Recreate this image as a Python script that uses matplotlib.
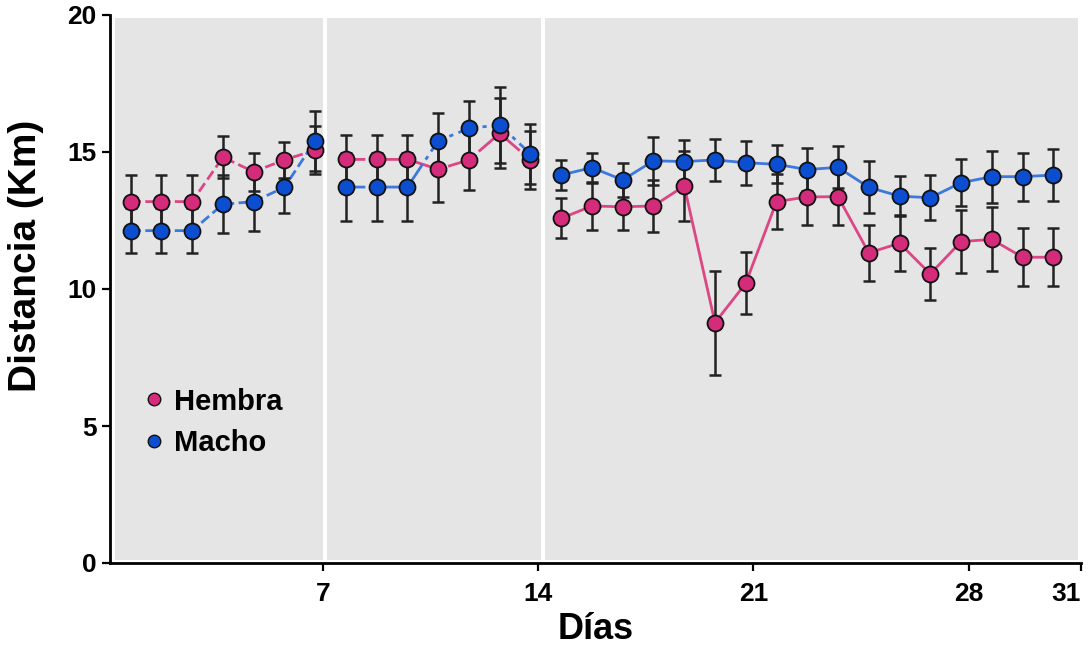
import matplotlib
matplotlib.use("Agg")
import matplotlib.pyplot as plt
from matplotlib.lines import Line2D
from matplotlib.patches import Rectangle
import numpy as np

# datos (media +- error por dia)
dias = np.arange(1, 32)
hembra = [13.19, 13.19, 13.19, 14.81, 14.28, 14.71, 15.07,
          14.73, 14.73, 14.73, 14.37, 14.71, 15.68, 14.71,
          12.58, 13.03, 13.00, 13.03, 13.76, 8.77, 10.21, 13.19, 13.36,
          13.37, 11.32, 11.67, 10.55, 11.73, 11.81, 11.16, 11.16]
hembra_err = [0.97, 0.97, 0.97, 0.77, 0.69, 0.67, 0.88,
              0.88, 0.88, 0.88, 1.20, 1.09, 1.28, 1.06,
              0.73, 0.86, 0.85, 0.94, 1.27, 1.90, 1.13, 1.00, 1.02,
              1.03, 1.02, 1.02, 0.95, 1.15, 1.17, 1.05, 1.05]
macho = [12.13, 12.13, 12.13, 13.09, 13.19, 13.71, 15.41,
         13.72, 13.72, 13.72, 15.41, 15.86, 15.99, 14.93,
         14.16, 14.43, 13.98, 14.68, 14.65, 14.71, 14.61, 14.55, 14.36,
         14.44, 13.71, 13.39, 13.33, 13.88, 14.10, 14.10, 14.16]
macho_err = [0.82, 0.82, 0.82, 1.06, 1.06, 0.95, 1.09,
             1.24, 1.24, 1.24, 1.02, 1.01, 1.39, 1.10,
             0.55, 0.55, 0.62, 0.88, 0.77, 0.77, 0.80, 0.69, 0.77,
             0.77, 0.95, 0.73, 0.82, 0.86, 0.95, 0.88, 0.94]

# tramos (semana 1, semana 2, resto) y estilo de linea de cada uno
tramos = [(1, 7), (8, 14), (15, 31)]
estilos = ["--", (0, (7, 2, 1.5, 2)), "-"]
paneles = [(0.49, 7.26), (7.39, 14.35), (14.48, 31.81)]

xticks = [7, 14, 21, 28]
yticks = [0, 5, 10, 15, 20]

rosa, rosa_linea = "#d42b7b", "#dd4585"
azul, azul_linea = "#0b4ecf", "#3d78de"

plt.rcParams["font.family"] = ["Liberation Sans", "DejaVu Sans"]
plt.rcParams["font.weight"] = "bold"

fig = plt.figure(figsize=(10.91, 6.52), dpi=100)
ax = fig.add_axes([110 / 1091, 1 - 563 / 652, 971 / 1091, 548 / 652])

xmin, xmax = 0.33, 31.9
for a, b in paneles:
    ax.add_patch(Rectangle((a, 0.1), b - a, 19.8, facecolor="#e5e5e5",
                           edgecolor="none", zorder=0))

for (ini, fin), ls in zip(tramos, estilos):
    sel = (dias >= ini) & (dias <= fin)
    x = dias[sel]
    for y, err, c, cl in [(np.array(hembra)[sel], np.array(hembra_err)[sel], rosa, rosa_linea),
                          (np.array(macho)[sel], np.array(macho_err)[sel], azul, azul_linea)]:
        ax.plot(x, y, color=cl, ls=ls, lw=2, zorder=2)
        ax.errorbar(x, y, yerr=err, fmt="none", ecolor="#222222",
                    elinewidth=1.8, capsize=4, capthick=1.8, zorder=3)
        ax.plot(x, y, "o", ms=11.5, mfc=c, mec="#111111", mew=1.3, ls="none",
                zorder=4)

ax.set_xlim(xmin, xmax)
ax.set_ylim(0, 20)
ax.set_xticks([t + 0.25 for t in xticks] + [xmax])
ax.set_xticklabels([str(t) for t in xticks] + ["31"])
ax.get_xticklabels()[-1].set_horizontalalignment("right")
ax.set_yticks(yticks)
ax.tick_params(labelsize=19, width=1.6, length=6)
ax.tick_params(axis="x", pad=8)
for s in ["top", "right"]:
    ax.spines[s].set_visible(False)
for s in ["left", "bottom"]:
    ax.spines[s].set_linewidth(2)
ax.set_xlabel("Días", fontsize=26, fontweight="bold", labelpad=4)
ax.set_ylabel("Distancia (Km)", fontsize=28, fontweight="bold")
ax.yaxis.set_label_coords(-0.068, 0.56)

handles = [Line2D([], [], marker="o", ls="none", ms=9, mfc=rosa, mec="#111111"),
           Line2D([], [], marker="o", ls="none", ms=9, mfc=azul, mec="#111111")]
ax.legend(handles, ["Hembra", "Macho"], loc="upper left",
          bbox_to_anchor=(0.033, 0.32), frameon=False, fontsize=21,
          handlelength=0.8, handletextpad=0.3, labelspacing=0.45,
          borderpad=0, borderaxespad=0)

fig.savefig("out.png", dpi=100)
